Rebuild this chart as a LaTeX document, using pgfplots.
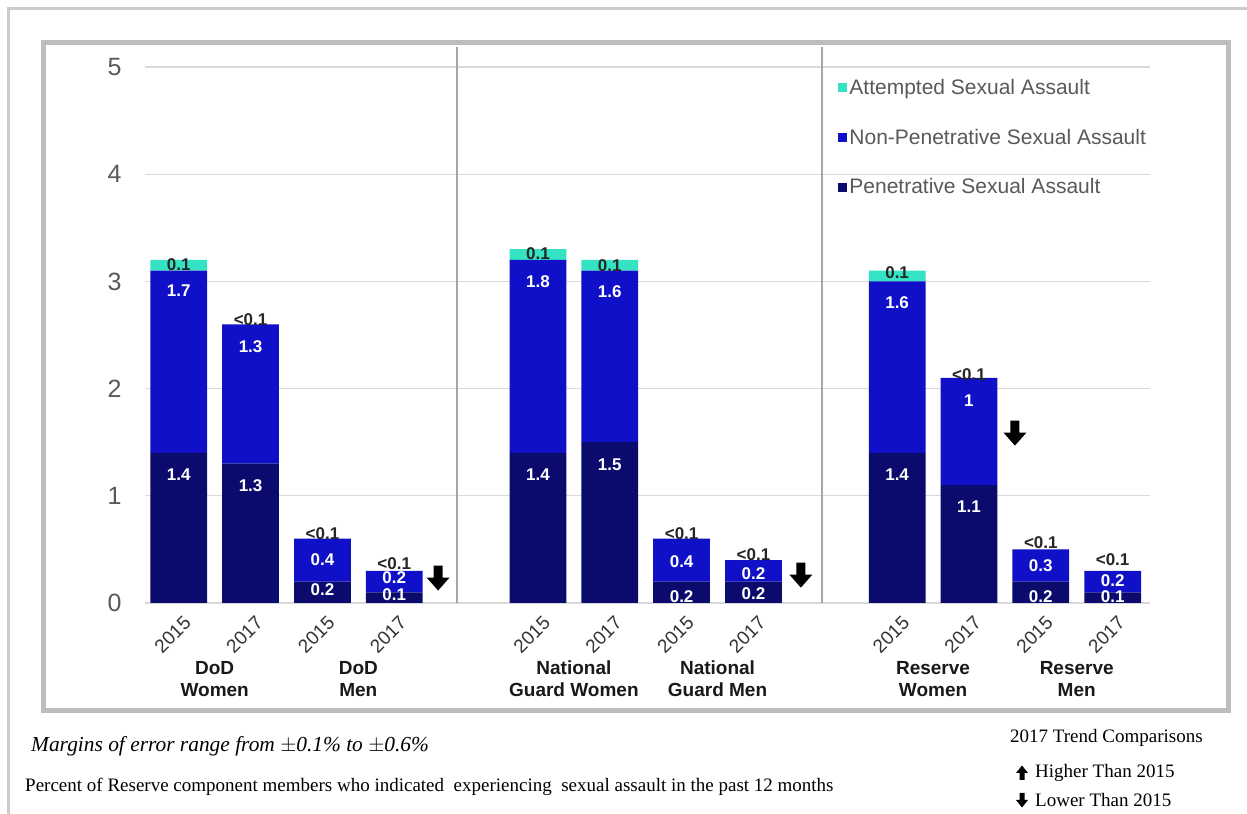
\documentclass[border=0pt]{standalone}
\usepackage{pgfplots}
\pgfplotsset{compat=1.18}
\usepackage{pgfplotstable}
\usepackage{fontspec}
\setmainfont{Liberation Serif}
\newfontfamily\arial{Liberation Sans}
\definecolor{pen}{HTML}{0B0B6E}
\definecolor{nonpen}{HTML}{1010C8}
\definecolor{att}{HTML}{33E3C3}
\definecolor{gridc}{HTML}{D9D9D9}
\definecolor{framec}{HTML}{BDBDBD}
\definecolor{outerc}{HTML}{CCCCCC}
\definecolor{sepc}{HTML}{A6A6A6}
\definecolor{txtgray}{HTML}{595959}

\pgfplotstableread{
x pen non att
0 1.4 1.7 0.1
1 1.3 1.3 0
2 0.2 0.4 0
3 0.1 0.2 0
5 1.4 1.8 0.1
6 1.5 1.6 0.1
7 0.2 0.4 0
8 0.2 0.2 0
10 1.4 1.6 0.1
11 1.1 1.0 0
12 0.2 0.3 0
13 0.1 0.2 0
}\datatable

\pgfplotsset{
  sqlegend/.style={legend image code/.code={\fill[##1] (0bp,-4.5bp) rectangle (9bp,4.5bp);}},
  samebox/.style={at={(145bp,211bp)}, anchor=south west,
    scale only axis, width=1005bp, height=536bp,
    xmin=-0.47, xmax=13.52, ymin=0, ymax=5, clip=false},
}
\tikzset{
  wl/.style={font=\arial\bfseries\fontsize{17bp}{17bp}\selectfont, text=white, inner sep=0pt},
  bl/.style={font=\arial\bfseries\fontsize{17bp}{17bp}\selectfont, text=black!85, inner sep=0pt},
  cat/.style={font=\arial\bfseries\fontsize{19bp}{22bp}\selectfont, text=black!90, align=center, inner sep=0pt},
}
\newcommand\darrow[1]{\fill[black] (#1) ++(-4.5bp,12.5bp) -- ++(9bp,0bp) -- ++(0bp,-12bp) -- ++(7bp,0bp) -- ++(-11.5bp,-13bp) -- ++(-11.5bp,13bp) -- ++(7bp,0bp) -- cycle;}

\begin{document}
\begin{tikzpicture}
\useasboundingbox (0,0) rectangle (1247bp,814bp);
\fill[white] (0,0) rectangle (1247bp,814bp);
\draw[line width=3bp, outerc] (8bp,0bp) -- (8bp,805bp) -- (1247bp,805bp);
\draw[line width=5bp, framec] (43bp,103bp) rectangle (1228bp,771bp);
\begin{axis}[
  samebox,
  ybar stacked, bar width=0.79,
  axis line style={draw=none},
  major tick length=0pt,
  ytick={0,1,2,3,4,5},
  ymajorgrids, grid style={gridc, line width=1.2bp},
  xtick={0,1,2,3,5,6,7,8,10,11,12,13},
  xticklabels={2015,2017,2015,2017,2015,2017,2015,2017,2015,2017,2015,2017},
  xticklabel style={font=\arial\fontsize{19bp}{19bp}\selectfont, text=black!80, xshift=4bp, yshift=-7bp, rotate=45, anchor=north east},
  yticklabel style={font=\arial\fontsize{25bp}{25bp}\selectfont, text=txtgray, xshift=-20bp},
  /pgf/number format/assume math mode=true,
  reverse legend,
  legend cell align=left,
  legend style={at={(axis cs:9.18,4.905)}, anchor=north west, draw=none, fill=none,
    font=\arial\fontsize{21bp}{24bp}\selectfont, text=txtgray, row sep=29bp, inner sep=0pt,
    nodes={inner xsep=2bp}},
]
\addplot[fill=pen, draw=none, sqlegend] table[x=x, y=pen] {\datatable};
\addlegendentry{Penetrative Sexual Assault}
\addplot[fill=nonpen, draw=none, sqlegend] table[x=x, y=non] {\datatable};
\addlegendentry{Non-Penetrative Sexual Assault}
\addplot[fill=att, draw=none, sqlegend] table[x=x, y=att] {\datatable};
\addlegendentry{Attempted Sexual Assault}
% separators
\draw[sepc, line width=2bp] (axis cs:3.87,0) -- (axis cs:3.87,5.19);
\draw[sepc, line width=2bp] (axis cs:8.96,0) -- (axis cs:8.96,5.19);
\end{axis}

\begin{axis}[samebox, hide axis]
% penetrative labels
\node[wl] at (axis cs:0,1.20) {1.4};
\node[wl] at (axis cs:1,1.09) {1.3};
\node[wl] at (axis cs:2,0.12) {0.2};
\node[wl] at (axis cs:3,0.08) {0.1};
\node[wl] at (axis cs:5,1.20) {1.4};
\node[wl] at (axis cs:6,1.29) {1.5};
\node[wl] at (axis cs:7,0.06) {0.2};
\node[wl] at (axis cs:8,0.09) {0.2};
\node[wl] at (axis cs:10,1.20) {1.4};
\node[wl] at (axis cs:11,0.90) {1.1};
\node[wl] at (axis cs:12,0.06) {0.2};
\node[wl] at (axis cs:13,0.06) {0.1};
% non-penetrative labels
\node[wl] at (axis cs:0,2.91) {1.7};
\node[wl] at (axis cs:1,2.39) {1.3};
\node[wl] at (axis cs:2,0.40) {0.4};
\node[wl] at (axis cs:3,0.24) {0.2};
\node[wl] at (axis cs:5,3.00) {1.8};
\node[wl] at (axis cs:6,2.90) {1.6};
\node[wl] at (axis cs:7,0.39) {0.4};
\node[wl] at (axis cs:8,0.27) {0.2};
\node[wl] at (axis cs:10,2.80) {1.6};
\node[wl] at (axis cs:11,1.89) {1};
\node[wl] at (axis cs:12,0.35) {0.3};
\node[wl] at (axis cs:13,0.21) {0.2};
% attempted labels
\node[bl] at (axis cs:0,3.16) {0.1};
\node[bl] at (axis cs:1,2.64) {<0.1};
\node[bl] at (axis cs:2,0.65) {<0.1};
\node[bl] at (axis cs:3,0.37) {<0.1};
\node[bl] at (axis cs:5,3.26) {0.1};
\node[bl] at (axis cs:6,3.15) {0.1};
\node[bl] at (axis cs:7,0.65) {<0.1};
\node[bl] at (axis cs:8,0.45) {<0.1};
\node[bl] at (axis cs:10,3.08) {0.1};
\node[bl] at (axis cs:11,2.13) {<0.1};
\node[bl] at (axis cs:12,0.56) {<0.1};
\node[bl] at (axis cs:13,0.40) {<0.1};

% trend arrows
\darrow{axis cs:3.61,0.233}
\darrow{axis cs:8.66,0.26}
\darrow{axis cs:11.64,1.585}

% category labels
\node[cat] at (axis cs:0.5,-0.71) {DoD\\Women};
\node[cat] at (axis cs:2.5,-0.71) {DoD\\Men};
\node[cat] at (axis cs:5.5,-0.71) {National\\Guard Women};
\node[cat] at (axis cs:7.5,-0.71) {National\\Guard Men};
\node[cat] at (axis cs:10.5,-0.71) {Reserve\\Women};
\node[cat] at (axis cs:12.5,-0.71) {Reserve\\Men};
\end{axis}

% footer
\node[anchor=west, inner sep=0pt, font=\itshape\fontsize{21.4bp}{21.4bp}\selectfont] at (31bp,68bp) {Margins of error range from $\pm$0.1\% to $\pm$0.6\%};
\node[anchor=west, inner sep=0pt, font=\fontsize{19bp}{19bp}\selectfont] at (25bp,27bp) {Percent of Reserve component members who indicated\ \ experiencing\ \ sexual assault in the past 12 months};
\node[anchor=west, inner sep=0pt, font=\fontsize{19bp}{19bp}\selectfont] at (1010bp,76bp) {2017 Trend Comparisons};
\node[anchor=west, inner sep=0pt, font=\fontsize{19bp}{19bp}\selectfont] at (1035bp,41bp) {Higher Than 2015};
\node[anchor=west, inner sep=0pt, font=\fontsize{19bp}{19bp}\selectfont] at (1035bp,14bp) {Lower Than 2015};
\fill[black] (1022bp,41bp) ++(-2.5bp,-7bp) -- ++(5bp,0bp) -- ++(0bp,7bp) -- ++(3.5bp,0bp) -- ++(-6bp,7.5bp) -- ++(-6bp,-7.5bp) -- ++(3.5bp,0bp) -- cycle;
\fill[black] (1022bp,14bp) ++(-2.5bp,7bp) -- ++(5bp,0bp) -- ++(0bp,-7bp) -- ++(3.5bp,0bp) -- ++(-6bp,-7.5bp) -- ++(-6bp,7.5bp) -- ++(3.5bp,0bp) -- cycle;
\end{tikzpicture}
\end{document}
